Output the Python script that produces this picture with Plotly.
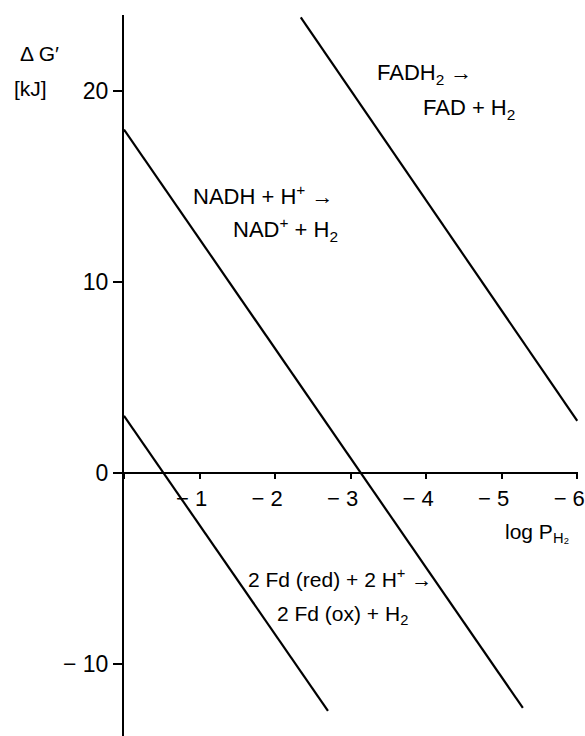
import plotly.graph_objects as go

# Free-energy change of H2 evolution versus hydrogen partial pressure
reactions = ["FADH2", "NADH", "Fd"]
log_p = {
    "FADH2": [-2.34, -6.0],
    "NADH": [0.0, -5.28],
    "Fd": [0.0, -2.70],
}
delta_g = {
    "FADH2": [23.87, 2.74],
    "NADH": [18.0, -12.3],
    "Fd": [3.0, -12.45],
}

x_ticks = [0, -1, -2, -3, -4, -5, -6]
x_ticktext = ["", "\u2212 1", "\u2212 2", "\u2212 3", "\u2212 4", "\u2212 5", "\u2212 6"]
y_ticks = [-10, 0, 10, 20]
y_ticktext = ["\u2212 10", "0", "10", "20"]

W, H = 585, 736
ML, MR, MT, MB = 124, 5, 15, 0
X_RANGE = [0.0, -6.01]
Y_RANGE = [-13.77, 24.0]

FONT = "Liberation Sans, Arial, sans-serif"


def px_to_x(px):
    return X_RANGE[0] + (px - ML) / (W - ML - MR) * (X_RANGE[1] - X_RANGE[0])


def px_to_y(py):
    return Y_RANGE[1] - (py - MT) / (H - MT - MB) * (Y_RANGE[1] - Y_RANGE[0])


def px_to_paper_x(px):
    return (px - ML) / (W - ML - MR)


def px_to_paper_y(py):
    return 1 - (py - MT) / (H - MT - MB)


fig = go.Figure()
for r in reactions:
    fig.add_trace(go.Scatter(
        x=log_p[r], y=delta_g[r], mode="lines",
        line=dict(color="black", width=2.2),
        showlegend=False, hoverinfo="skip", cliponaxis=False,
    ))

# x axis crosses the y axis at dG' = 0
zero_pos = (0 - Y_RANGE[0]) / (Y_RANGE[1] - Y_RANGE[0])

fig.update_layout(
    width=W, height=H,
    margin=dict(l=ML, r=MR, t=MT, b=MB),
    paper_bgcolor="white", plot_bgcolor="white",
    font=dict(family=FONT, color="black", size=22),
    xaxis=dict(
        range=X_RANGE, anchor="free", position=zero_pos,
        showline=True, linecolor="black", linewidth=2,
        showgrid=False, zeroline=False,
        tickmode="array", tickvals=x_ticks, ticktext=x_ticktext,
        ticks="outside", ticklen=5, tickwidth=1.5, tickcolor="black",
        tickfont=dict(family=FONT, size=22),
        ticklabelshift=8, ticklabeloverflow="allow",
    ),
    yaxis=dict(
        range=Y_RANGE,
        showline=True, linecolor="black", linewidth=2,
        showgrid=False, zeroline=False,
        tickmode="array", tickvals=y_ticks, ticktext=y_ticktext,
        ticks="outside", ticklen=9, tickwidth=1.5, tickcolor="black",
        tickfont=dict(family=FONT, size=23),
    ),
)

labels = [
    # (text, left px, centre px, size)
    ("FADH<sub>2</sub> \u2192", 376, 74, 22),
    ("FAD + H<sub>2</sub>", 422, 109, 22),
    ("NADH + H<sup>+</sup> \u2192", 191, 195, 22),
    ("NAD<sup>+</sup> + H<sub>2</sub>", 231, 229, 22),
    ("2 Fd (red) + 2 H<sup>+</sup> \u2192", 247, 578, 21),
    ("2 Fd (ox) + H<sub>2</sub>", 276, 615, 21),
]
for text, lx, cy, size in labels:
    fig.add_annotation(
        x=px_to_x(lx), y=px_to_y(cy), xref="x", yref="y",
        text=text, showarrow=False, xanchor="left", yanchor="middle",
        font=dict(family=FONT, size=size, color="black"),
    )

axis_labels = [
    ("\u0394 G\u2032", 18, 54, 21),
    ("[kJ]", 12, 89, 21),
    ("log P<sub>H\u2082</sub>", 505, 533, 21),
]
for text, lx, cy, size in axis_labels:
    fig.add_annotation(
        x=px_to_paper_x(lx), y=px_to_paper_y(cy), xref="paper", yref="paper",
        text=text, showarrow=False, xanchor="left", yanchor="middle",
        font=dict(family=FONT, size=size, color="black"),
    )

fig.write_html("out.html")
